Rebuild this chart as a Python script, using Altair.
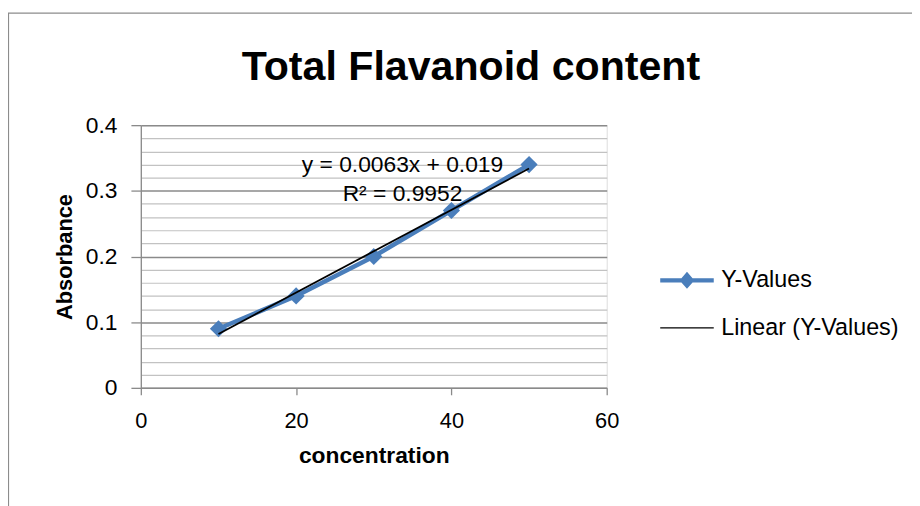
import altair as alt
import pandas as pd

# ---- data ----
conc = [10, 20, 30, 40, 50]
absorb = [0.09, 0.14, 0.20, 0.27, 0.34]
series_names = ["Y-Values", "Linear (Y-Values)"]
eq_lines = ["y = 0.0063x + 0.019", "R² = 0.9952"]
eq_x = [33.7, 33.7]
eq_y = [0.3395, 0.2955]
x_ticks = [0, 20, 40, 60]
y_ticks = [0, 0.02, 0.04, 0.06, 0.08, 0.1, 0.12, 0.14, 0.16, 0.18, 0.2,
           0.22, 0.24, 0.26, 0.28, 0.3, 0.32, 0.34, 0.36, 0.38, 0.4]
title_text = "Total Flavanoid content"

FONT = "Liberation Sans"
BLUE = "#4A7EBB"
MAJOR = "#8A8A8A"
MINOR = "#C2C2C2"
AXIS = "#8A8A8A"

df = pd.DataFrame({"conc": conc, "absorb": absorb})
eq_df = pd.DataFrame({"label": eq_lines, "conc": eq_x, "absorb": eq_y})
leg_df = pd.DataFrame({"series": series_names})
one = pd.DataFrame({"k": [0]})

xs = alt.Scale(domain=[0, 60], nice=False, zero=False)
ys = alt.Scale(domain=[0, 0.4], nice=False, zero=False)

is_major = "abs(datum.value*10 - round(datum.value*10)) < 1e-6"

x_axis = alt.Axis(
    values=x_ticks, tickCount=10, title="concentration", grid=False,
    domainColor=AXIS, domainWidth=1.3, tickColor=AXIS, tickWidth=1.3, tickSize=7,
    labelFont=FONT, labelFontSize=22, labelColor="black", labelPadding=16,
    labelFlush=False, labelOverlap=False,
    titleFont=FONT, titleFontSize=23, titleFontWeight="bold", titleColor="black",
    titlePadding=13,
)
y_axis = alt.Axis(
    values=y_ticks, tickCount=50, title="Absorbance", grid=True,
    gridColor={"condition": {"test": is_major, "value": MAJOR}, "value": MINOR},
    gridWidth={"condition": {"test": is_major, "value": 1.5}, "value": 1.2},
    tickOpacity={"condition": {"test": is_major, "value": 1}, "value": 0},
    domainColor=AXIS, domainWidth=1.3, tickColor=AXIS, tickWidth=1.3, tickSize=10,
    labelExpr=f"{is_major} ? (datum.value == 0 ? '0' : format(datum.value, '.1f')) : ''",
    labelFont=FONT, labelFontSize=23, labelColor="black", labelPadding=14,
    labelFlush=False, labelOverlap=False,
    titleFont=FONT, titleFontSize=22, titleFontWeight="bold", titleColor="black",
    titlePadding=9,
)

base = alt.Chart(df).encode(
    x=alt.X("conc:Q", scale=xs, axis=x_axis),
    y=alt.Y("absorb:Q", scale=ys, axis=y_axis),
)

line = base.mark_line(color=BLUE, strokeWidth=4.5)
pts = base.mark_point(shape="diamond", filled=True, size=300, color=BLUE, opacity=1)
trend = base.transform_regression("conc", "absorb", extent=[10, 50]).mark_line(
    color="black", strokeWidth=1.8
)

eq = alt.Chart(eq_df).mark_text(
    font=FONT, fontSize=23, color="black", baseline="middle", align="center"
).encode(
    x=alt.X("conc:Q", scale=xs),
    y=alt.Y("absorb:Q", scale=ys),
    text="label:N",
)

path_y = ("M-2,-0.16L-0.415,-0.16L0,-0.63L0.415,-0.16L2,-0.16L2,0.16L0.415,0.16"
          "L0,0.63L-0.415,0.16L-2,0.16Z")
path_lin = "M-2,-0.05L2,-0.05L2,0.05L-2,0.05Z"

legend = alt.Legend(
    title=None, orient="none", legendX=537.5, legendY=143,
    labelFont=FONT, labelFontSize=23.5, labelColor="black", labelLimit=400,
    labelOffset=21, rowPadding=23, padding=0, symbolOpacity=1,
    symbolStrokeWidth=0, symbolSize=729,
)
leg = alt.Chart(leg_df).mark_point(filled=True, size=729, opacity=0).encode(
    color=alt.Color("series:N", scale=alt.Scale(domain=series_names, range=[BLUE, "black"]),
                    legend=legend),
    shape=alt.Shape("series:N", scale=alt.Scale(domain=series_names, range=[path_y, path_lin]),
                    legend=legend),
)

title = alt.Chart(one).mark_text(
    text=title_text, font=FONT, fontSize=41.5, fontWeight="bold", color="black",
    align="center", baseline="alphabetic",
).encode(x=alt.value(333), y=alt.value(-46))

frame = alt.Chart(one).mark_rect(fill="transparent", stroke="#8C8C8C", strokeWidth=1.2).encode(
    x=alt.value(-133.5), x2=alt.value(800), y=alt.value(-113), y2=alt.value(420)
)

chart = alt.layer(frame, line, pts, trend, eq, leg, title).properties(
    width=470, height=265,
    autosize=alt.AutoSizeParams(type="none"),
    padding={"left": 134, "top": 116, "right": 308, "bottom": 117},
).configure_view(stroke="transparent").configure(background="white")

chart.save("out.html", embed_options={"renderer": "svg", "actions": False})
